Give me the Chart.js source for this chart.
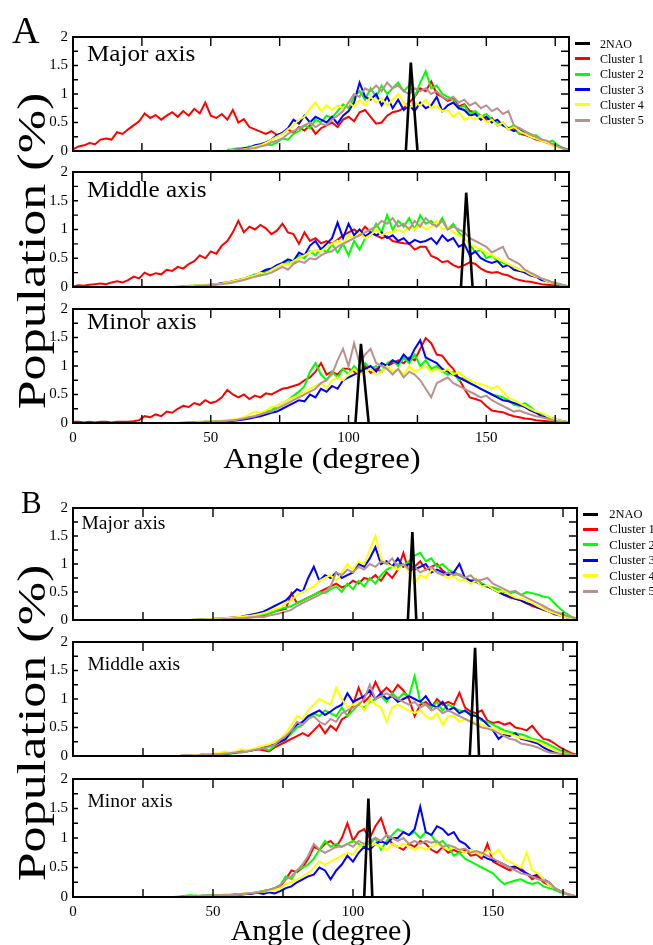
<!DOCTYPE html>
<html><head><meta charset="utf-8">
<script src="https://cdn.jsdelivr.net/npm/chart.js@4.4.1/dist/chart.umd.min.js"></script>
<style>
html,body{margin:0;padding:0;background:#fff;}
#fig{position:relative;width:653px;height:945px;overflow:hidden;font-family:'Liberation Serif','Times New Roman',serif;color:#000;}
canvas{position:absolute;left:0;}
.t{position:absolute;white-space:nowrap;line-height:1;}
</style></head>
<body><div id="fig"></div>
<script>
// ---------------- DATA ----------------
const SERIES_NAMES = ['2NAO','Cluster 1','Cluster 2','Cluster 3','Cluster 4','Cluster 5'];
const PANEL_NAMES = ['Major axis','Middle axis','Minor axis'];
const X_TICK_LABELS = [0,50,100,150];
const Y_TICK_LABELS = [0,0.5,1,1.5,2];

const ANGLES_0 = [0,2,4,6,8,10,12,14,16,18,20,22,24,26,28,30,32,34,36,38,40,42,44,46,48,50,52,54,56,58,60,62,64,66,68,70,72,74,76,78,80,82,84,86,88,90,92,94,96,98,100,102,104,106,108,110,112,114,116,118,120,122,124,126,128,130,132,134,136,138,140,142,144,146,148,150,152,154,156,158,160,162,164,166,168,170,172,174,176,178,180];
const ANGLES_36 = [36,38,40,42,44,46,48,50,52,54,56,58,60,62,64,66,68,70,72,74,76,78,80,82,84,86,88,90,92,94,96,98,100,102,104,106,108,110,112,114,116,118,120,122,124,126,128,130,132,134,136,138,140,142,144,146,148,150,152,154,156,158,160,162,164,166,168,170,172,174,176,178,180];

// 2NAO reference spikes
const A_MAJOR_REF_X = [120.8,122.6,125.0],  A_MAJOR_REF_Y = [0,1.55,0];
const A_MIDDLE_REF_X = [140.8,142.7,145.0], A_MIDDLE_REF_Y = [0,1.64,0];
const A_MINOR_REF_X = [102.5,104.5,107.3],  A_MINOR_REF_Y = [0,1.39,0];
const B_MAJOR_REF_X = [119.6,121.2,122.6],  B_MAJOR_REF_Y = [0,1.57,0];
const B_MIDDLE_REF_X = [141.7,143.6,145.0], B_MIDDLE_REF_Y = [0,1.90,0];
const B_MINOR_REF_X = [104.0,105.5,106.9],  B_MINOR_REF_Y = [0,1.67,0];

// ---- A, Major axis ----
const A_MAJOR_C1 = [0.03,0.08,0.10,0.14,0.12,0.20,0.22,0.20,0.33,0.30,
0.38,0.45,0.52,0.66,0.58,0.63,0.55,0.62,0.68,0.60,
0.70,0.62,0.74,0.66,0.85,0.62,0.58,0.65,0.55,0.72,
0.50,0.56,0.42,0.38,0.34,0.30,0.35,0.28,0.30,0.38,
0.32,0.42,0.36,0.45,0.30,0.40,0.45,0.50,0.42,0.55,
0.60,0.52,0.68,0.72,0.60,0.48,0.50,0.62,0.68,0.70,
0.75,0.85,0.95,1.10,1.05,1.22,1.00,0.95,0.88,0.92,
0.78,0.82,0.70,0.68,0.62,0.55,0.58,0.45,0.50,0.38,
0.40,0.30,0.28,0.25,0.20,0.18,0.15,0.10,0.08,0.05,
0.02];
const A_MAJOR_C2 = [null,null,null,null,null,null,null,null,null,null,
0.02,0.03,0.05,0.04,0.08,0.06,0.10,0.12,0.10,0.15,
0.22,0.20,0.30,0.35,0.45,0.40,0.55,0.50,0.62,0.58,
0.70,0.82,0.75,0.95,1.05,0.90,1.10,0.95,1.15,1.00,
1.10,1.20,1.05,1.15,0.95,1.20,1.40,1.10,1.15,1.00,
0.95,0.90,0.75,0.80,0.65,0.70,0.60,0.65,0.55,0.50,
0.45,0.40,0.45,0.30,0.35,0.25,0.28,0.20,0.15,0.18,
0.10,0.05,0.02];
const A_MAJOR_C3 = [null,null,null,null,null,null,null,null,null,null,
0.01,0.02,0.03,0.05,0.06,0.10,0.12,0.15,0.20,0.28,
0.32,0.40,0.55,0.48,0.62,0.50,0.60,0.55,0.50,0.60,
0.48,0.62,0.70,0.85,1.20,0.95,0.90,1.00,0.80,0.95,
0.75,0.90,0.72,0.80,0.70,0.85,0.75,0.80,0.95,0.70,
0.80,0.85,0.75,0.72,0.62,0.65,0.55,0.60,0.50,0.55,
0.45,0.40,0.35,0.40,0.30,0.25,0.22,0.20,0.15,0.12,
0.08,0.04,0.01];
const A_MAJOR_C4 = [null,null,null,null,null,null,null,null,null,null,
0.01,0.02,0.02,0.03,0.05,0.08,0.10,0.14,0.20,0.25,
0.30,0.38,0.45,0.55,0.60,0.75,0.85,0.70,0.80,0.72,
0.80,0.75,0.85,0.78,0.90,0.80,0.95,0.85,0.92,0.80,
0.90,1.00,0.85,0.75,0.85,0.80,0.90,0.75,0.80,0.70,
0.72,0.60,0.68,0.55,0.60,0.55,0.62,0.50,0.55,0.45,
0.50,0.38,0.42,0.35,0.30,0.25,0.22,0.18,0.15,0.10,
0.06,0.03,0.01];
const A_MAJOR_C5 = [null,null,null,null,null,null,null,null,null,null,
0.01,0.01,0.02,0.02,0.04,0.05,0.08,0.10,0.15,0.18,
0.22,0.30,0.35,0.40,0.45,0.50,0.42,0.48,0.45,0.55,
0.62,0.70,0.85,1.00,0.95,1.10,1.05,1.15,1.05,1.20,
1.10,1.15,1.05,1.00,1.10,1.05,1.10,1.00,1.05,0.95,
0.90,0.95,0.85,0.90,0.80,0.85,0.75,0.80,0.70,0.75,
0.65,0.70,0.45,0.40,0.35,0.30,0.25,0.20,0.18,0.12,
0.08,0.04,0.01];

// ---- A, Middle axis ----
const A_MIDDLE_C1 = [0.01,0.03,0.02,0.04,0.05,0.06,0.05,0.08,0.10,0.08,
0.12,0.18,0.15,0.25,0.20,0.24,0.22,0.30,0.28,0.35,
0.32,0.40,0.45,0.55,0.50,0.62,0.58,0.72,0.80,0.95,
1.15,0.95,1.05,1.00,1.08,1.02,0.92,0.98,1.10,0.95,
0.92,0.75,0.95,0.80,0.85,0.76,0.80,0.75,0.82,0.90,
0.95,1.00,0.92,1.05,0.95,0.90,0.85,0.88,0.80,0.78,
0.76,0.75,0.65,0.70,0.70,0.54,0.50,0.43,0.45,0.38,
0.34,0.38,0.43,0.40,0.32,0.27,0.25,0.26,0.22,0.20,
0.15,0.12,0.10,0.09,0.07,0.05,0.04,0.03,0.02,0.02,
0.01];
const A_MIDDLE_C2 = [0.00,0.01,0.01,0.02,0.02,0.03,0.03,0.04,0.05,0.06,
0.08,0.10,0.12,0.15,0.18,0.22,0.20,0.28,0.30,0.35,
0.40,0.45,0.40,0.55,0.50,0.62,0.55,0.68,0.60,0.75,
0.60,0.75,0.55,0.80,0.65,0.85,0.90,1.10,0.95,1.25,
1.00,1.15,1.05,1.20,1.00,1.25,1.10,1.15,1.05,1.20,
1.00,1.10,0.95,0.85,0.75,0.60,0.65,0.50,0.55,0.45,
0.42,0.38,0.35,0.30,0.25,0.22,0.18,0.14,0.12,0.08,
0.06,0.03,0.01];
const A_MIDDLE_C3 = [0.00,0.00,0.01,0.01,0.02,0.02,0.03,0.04,0.05,0.07,
0.08,0.10,0.12,0.14,0.18,0.20,0.25,0.30,0.32,0.38,
0.42,0.48,0.45,0.60,0.55,0.72,0.80,0.65,0.75,0.85,
1.12,0.85,1.10,0.90,1.00,0.88,0.95,0.90,0.95,0.85,
0.90,0.80,0.85,0.75,0.82,0.78,0.80,0.85,0.75,0.90,
0.80,0.85,0.70,0.75,0.55,0.62,0.50,0.45,0.42,0.45,
0.35,0.38,0.30,0.28,0.25,0.20,0.18,0.12,0.10,0.08,
0.05,0.03,0.01];
const A_MIDDLE_C4 = [0.00,0.01,0.01,0.02,0.02,0.03,0.04,0.04,0.05,0.06,
0.08,0.10,0.12,0.15,0.18,0.20,0.25,0.22,0.30,0.35,
0.40,0.38,0.45,0.50,0.55,0.60,0.65,0.62,0.70,0.75,
0.80,0.75,0.90,0.85,0.95,0.85,0.90,1.00,0.90,0.95,
0.95,1.00,0.95,1.05,1.00,1.10,1.00,1.05,1.15,1.00,
1.05,0.95,0.90,0.85,0.75,0.70,0.65,0.60,0.55,0.50,
0.45,0.40,0.35,0.30,0.28,0.22,0.18,0.15,0.10,0.08,
0.05,0.03,0.01];
const A_MIDDLE_C5 = [0.00,0.00,0.01,0.01,0.01,0.02,0.03,0.03,0.04,0.05,
0.06,0.08,0.10,0.12,0.15,0.18,0.20,0.22,0.25,0.30,
0.35,0.30,0.40,0.45,0.42,0.50,0.48,0.55,0.60,0.62,
0.70,0.75,0.80,0.85,0.90,0.95,1.00,1.05,1.15,1.10,
1.20,1.05,1.10,1.00,1.15,1.05,1.20,1.10,1.05,1.15,
1.00,1.05,1.00,0.95,0.85,0.80,0.75,0.70,0.60,0.65,
0.70,0.50,0.45,0.40,0.30,0.25,0.20,0.15,0.12,0.08,
0.05,0.03,0.01];

// ---- A, Minor axis ----
const A_MINOR_C1 = [0.02,0.02,0.01,0.02,0.01,0.02,0.02,0.01,0.02,0.02,
0.02,0.03,0.05,0.12,0.10,0.15,0.12,0.20,0.18,0.25,
0.30,0.28,0.35,0.32,0.40,0.35,0.38,0.45,0.58,0.50,
0.45,0.50,0.42,0.48,0.45,0.52,0.50,0.55,0.60,0.62,
0.65,0.68,0.75,0.80,0.90,1.05,0.85,0.90,0.85,0.95,
0.95,0.90,0.85,1.00,0.88,0.95,0.90,1.00,1.05,1.10,
1.05,1.15,1.10,1.30,1.49,1.40,1.20,1.18,1.05,0.95,
0.78,0.60,0.45,0.42,0.39,0.30,0.22,0.20,0.19,0.15,
0.12,0.10,0.08,0.07,0.05,0.04,0.03,0.02,0.02,0.01,
0.01];
const A_MINOR_C2 = [0.00,0.00,0.01,0.01,0.01,0.02,0.02,0.02,0.03,0.03,
0.04,0.05,0.06,0.08,0.10,0.12,0.15,0.20,0.22,0.30,
0.35,0.40,0.48,0.55,0.65,0.90,1.05,0.85,0.75,0.90,
0.80,0.95,0.85,1.00,0.90,1.05,0.95,1.00,0.90,1.05,
1.10,1.00,1.15,1.05,1.20,1.00,1.10,0.95,1.00,0.90,
0.85,0.90,0.75,0.80,0.70,0.65,0.60,0.55,0.50,0.48,
0.45,0.40,0.32,0.30,0.35,0.28,0.20,0.15,0.12,0.08,
0.05,0.03,0.01];
const A_MINOR_C3 = [0.00,0.00,0.00,0.01,0.01,0.01,0.02,0.02,0.02,0.03,
0.03,0.04,0.05,0.06,0.08,0.10,0.12,0.15,0.18,0.20,
0.25,0.30,0.35,0.40,0.38,0.50,0.45,0.60,0.55,0.65,
0.60,0.75,0.80,0.85,0.90,0.95,1.00,0.90,1.05,1.00,
1.10,1.05,1.20,1.10,1.30,1.45,1.15,1.10,1.05,0.95,
0.90,0.85,0.80,0.75,0.70,0.65,0.60,0.55,0.50,0.45,
0.40,0.38,0.35,0.32,0.28,0.22,0.18,0.12,0.10,0.08,
0.05,0.03,0.01];
const A_MINOR_C4 = [0.00,0.00,0.01,0.01,0.01,0.02,0.02,0.03,0.03,0.04,
0.05,0.06,0.08,0.10,0.15,0.20,0.18,0.22,0.28,0.30,
0.35,0.40,0.45,0.48,0.55,0.60,0.65,0.70,0.60,0.75,
0.80,0.75,0.85,0.95,0.85,0.90,0.95,0.85,0.90,1.00,
0.90,0.95,0.85,1.00,0.90,0.95,1.00,0.90,0.95,0.90,
0.95,0.85,0.90,0.80,0.75,0.70,0.68,0.65,0.60,0.65,
0.55,0.45,0.40,0.35,0.30,0.25,0.20,0.18,0.12,0.08,
0.05,0.03,0.01];
const A_MINOR_C5 = [0.00,0.00,0.00,0.01,0.01,0.01,0.02,0.02,0.03,0.03,
0.04,0.05,0.06,0.08,0.10,0.12,0.15,0.18,0.20,0.25,
0.30,0.35,0.40,0.45,0.50,0.55,0.60,0.70,0.75,0.85,
1.10,1.30,1.00,1.40,1.05,1.20,1.30,1.05,1.00,0.95,
0.85,0.95,0.80,0.90,0.85,0.75,0.60,0.45,0.70,0.75,
0.80,0.70,0.65,0.60,0.55,0.50,0.45,0.48,0.40,0.35,
0.30,0.25,0.20,0.22,0.18,0.15,0.12,0.10,0.08,0.05,
0.03,0.02,0.01];

// ---- B, Major axis ----
const B_MAJOR_C1 = [null,null,null,null,0.00,0.01,0.01,0.01,0.02,0.02,
0.02,0.03,0.03,0.04,0.05,0.06,0.08,0.12,0.15,0.18,
0.20,0.48,0.30,0.35,0.40,0.45,0.50,0.55,0.60,0.65,
0.58,0.62,0.70,0.65,0.75,0.72,0.80,0.70,0.85,0.75,
0.90,1.20,0.85,0.95,1.05,0.90,0.95,1.00,0.88,0.82,
0.85,0.80,0.75,0.70,0.72,0.65,0.60,0.55,0.50,0.45,
0.40,0.38,0.35,0.30,0.25,0.22,0.20,0.15,0.12,0.10,
0.06,0.03,0.01];
const B_MAJOR_C2 = [null,null,null,null,0.00,0.01,0.01,0.02,0.02,0.02,
0.03,0.03,0.04,0.05,0.06,0.08,0.10,0.12,0.15,0.20,
0.22,0.25,0.30,0.35,0.40,0.45,0.50,0.48,0.55,0.60,
0.50,0.65,0.55,0.70,0.60,0.75,0.65,0.80,0.90,0.95,
1.00,0.95,1.05,1.15,1.20,1.05,1.10,0.95,1.00,0.90,
0.85,0.80,0.75,0.70,0.72,0.65,0.60,0.58,0.55,0.50,
0.48,0.50,0.45,0.50,0.48,0.45,0.42,0.40,0.30,0.20,
0.12,0.06,0.02];
const B_MAJOR_C3 = [null,null,null,0.00,0.01,0.01,0.02,0.02,0.03,0.03,
0.04,0.05,0.06,0.08,0.10,0.12,0.15,0.20,0.25,0.30,
0.35,0.45,0.55,0.50,0.75,0.95,0.70,0.80,0.75,0.85,
0.75,0.80,0.85,1.00,0.95,1.10,1.30,1.00,1.05,0.95,
1.10,0.95,1.00,0.90,0.95,1.00,0.85,0.90,0.85,0.80,
0.85,1.00,0.75,0.70,0.68,0.62,0.60,0.55,0.50,0.45,
0.42,0.38,0.35,0.30,0.28,0.22,0.18,0.15,0.10,0.08,
0.05,0.03,0.01];
const B_MAJOR_C4 = [null,null,null,0.00,0.01,0.01,0.02,0.02,0.03,0.03,
0.04,0.05,0.06,0.07,0.08,0.10,0.12,0.15,0.20,0.22,
0.30,0.35,0.45,0.50,0.55,0.60,0.70,0.75,0.80,0.70,
0.85,1.00,0.90,1.05,1.00,1.25,1.50,1.10,1.00,0.95,
0.90,1.00,0.85,0.65,0.80,0.75,0.90,0.85,0.80,0.75,
0.78,0.70,0.72,0.65,0.70,0.60,0.62,0.55,0.50,0.52,
0.45,0.40,0.38,0.35,0.30,0.25,0.20,0.15,0.12,0.08,
0.05,0.03,0.01];
const B_MAJOR_C5 = [null,null,null,null,0.00,0.00,0.01,0.01,0.01,0.02,
0.02,0.03,0.03,0.04,0.05,0.06,0.05,0.08,0.10,0.12,
0.15,0.18,0.25,0.30,0.35,0.40,0.45,0.50,0.60,0.85,
0.80,0.90,0.85,0.95,0.90,1.00,0.95,1.05,1.00,1.10,
0.95,1.00,0.90,0.95,0.85,0.90,0.95,0.85,0.80,0.85,
0.80,0.82,0.75,0.80,0.70,0.72,0.75,0.65,0.60,0.55,
0.50,0.52,0.45,0.40,0.35,0.30,0.25,0.20,0.15,0.12,
0.08,0.05,0.02];

// ---- B, Middle axis ----
const B_MIDDLE_C1 = [0.00,0.00,0.01,0.01,0.01,0.02,0.02,0.02,0.03,0.04,
0.05,0.06,0.07,0.08,0.10,0.12,0.10,0.08,0.15,0.20,
0.25,0.30,0.35,0.40,0.35,0.45,0.55,0.40,0.53,0.45,
0.64,0.70,0.90,1.20,0.95,1.05,1.30,1.10,1.20,1.10,
1.25,1.15,1.00,0.70,0.90,0.95,0.85,1.00,0.90,0.95,
0.90,1.11,0.85,0.78,0.75,0.80,0.62,0.58,0.60,0.55,
0.58,0.50,0.48,0.45,0.53,0.40,0.30,0.28,0.22,0.15,
0.10,0.05,0.02];
const B_MIDDLE_C2 = [0.00,0.00,0.00,0.01,0.01,0.01,0.02,0.02,0.02,0.03,
0.04,0.05,0.06,0.08,0.10,0.12,0.14,0.10,0.18,0.25,
0.30,0.40,0.50,0.55,0.65,0.75,0.70,0.80,0.75,0.70,
0.85,0.70,0.80,0.90,0.85,0.95,1.00,1.05,0.95,1.10,
1.00,1.10,1.05,1.40,0.95,0.90,0.85,0.95,0.80,0.90,
0.85,0.80,0.78,0.75,0.70,0.62,0.60,0.55,0.50,0.45,
0.42,0.40,0.38,0.35,0.30,0.28,0.25,0.20,0.15,0.10,
0.06,0.03,0.01];
const B_MIDDLE_C3 = [0.00,0.00,0.01,0.01,0.01,0.02,0.02,0.03,0.03,0.04,
0.05,0.06,0.08,0.09,0.10,0.12,0.15,0.18,0.20,0.25,
0.30,0.45,0.55,0.60,0.70,0.75,0.80,0.72,0.78,0.85,
0.90,1.10,0.95,1.00,1.05,1.15,1.00,1.10,1.00,1.05,
0.95,1.00,1.05,1.00,0.95,1.05,0.90,0.85,0.95,0.80,
0.85,0.75,0.80,0.72,0.70,0.65,0.55,0.45,0.30,0.38,
0.35,0.40,0.30,0.28,0.25,0.22,0.15,0.10,0.06,0.05,
0.04,0.02,0.01];
const B_MIDDLE_C4 = [0.00,0.00,0.01,0.01,0.02,0.02,0.03,0.04,0.05,0.08,
0.06,0.08,0.12,0.10,0.12,0.15,0.18,0.20,0.25,0.30,
0.40,0.55,0.70,0.65,0.80,0.90,1.00,0.95,0.90,1.20,
1.00,0.85,0.90,0.95,0.80,1.00,0.90,0.85,0.60,0.85,
0.90,0.85,0.80,0.75,0.80,0.70,0.65,0.75,0.55,0.70,
0.70,0.60,0.65,0.62,0.58,0.55,0.50,0.48,0.45,0.40,
0.38,0.35,0.32,0.30,0.28,0.25,0.20,0.15,0.10,0.06,
0.04,0.02,0.01];
const B_MIDDLE_C5 = [0.00,0.00,0.01,0.01,0.01,0.02,0.02,0.03,0.03,0.04,
0.05,0.06,0.07,0.08,0.10,0.12,0.14,0.16,0.20,0.28,
0.35,0.45,0.60,0.55,0.65,0.70,0.60,0.55,0.65,0.60,
0.75,0.80,0.85,0.90,1.00,1.25,1.00,1.05,1.10,1.05,
1.00,0.95,0.90,0.95,0.85,0.90,0.80,0.85,0.75,0.80,
0.75,0.70,0.65,0.60,0.55,0.50,0.48,0.45,0.40,0.35,
0.30,0.28,0.22,0.20,0.18,0.15,0.10,0.06,0.05,0.04,
0.03,0.02,0.01];

// ---- B, Minor axis ----
const B_MINOR_C1 = [0.00,0.00,0.01,0.01,0.02,0.01,0.02,0.02,0.03,0.02,
0.03,0.04,0.04,0.05,0.06,0.08,0.10,0.12,0.15,0.18,
0.30,0.45,0.42,0.50,0.65,0.85,0.80,0.90,0.95,0.85,
1.00,1.25,0.95,1.10,1.15,1.00,1.20,1.34,1.05,0.90,
0.85,0.80,0.90,0.85,0.95,0.90,0.80,0.75,0.85,0.75,
0.80,0.75,0.80,0.70,0.72,0.65,0.90,0.60,0.55,0.50,
0.45,0.50,0.48,0.40,0.30,0.35,0.25,0.20,0.15,0.10,
0.06,0.03,0.01];
const B_MINOR_C2 = [0.00,0.01,0.02,0.03,0.02,0.02,0.03,0.03,0.03,0.04,
0.04,0.05,0.05,0.06,0.07,0.08,0.10,0.12,0.15,0.20,
0.35,0.30,0.45,0.50,0.55,0.65,0.80,0.95,0.85,0.90,
0.85,0.90,0.95,0.90,0.85,0.90,1.00,0.80,0.95,1.05,
1.15,1.10,1.05,1.10,1.00,1.10,1.05,0.90,0.95,0.85,
0.70,0.75,0.65,0.60,0.55,0.50,0.45,0.40,0.30,0.22,
0.25,0.28,0.30,0.25,0.22,0.25,0.18,0.15,0.12,0.08,
0.05,0.03,0.01];
const B_MINOR_C3 = [0.00,0.00,0.01,0.01,0.01,0.02,0.02,0.02,0.03,0.03,
0.03,0.04,0.05,0.05,0.06,0.07,0.05,0.08,0.06,0.10,
0.15,0.18,0.25,0.30,0.35,0.38,0.50,0.45,0.30,0.45,
0.55,0.70,0.60,0.75,0.85,0.80,0.90,0.95,0.90,1.00,
1.00,1.10,1.05,1.15,1.53,1.10,1.05,1.20,1.15,1.05,
1.10,0.95,0.90,0.80,0.75,0.70,0.65,0.62,0.60,0.55,
0.50,0.52,0.45,0.40,0.35,0.38,0.30,0.25,0.15,0.10,
0.06,0.03,0.01];
const B_MINOR_C4 = [0.00,0.00,0.01,0.01,0.01,0.02,0.02,0.02,0.03,0.03,
0.03,0.04,0.05,0.06,0.07,0.08,0.09,0.10,0.12,0.15,
0.22,0.25,0.30,0.35,0.40,0.50,0.60,0.55,0.60,0.65,
0.70,0.75,0.72,0.85,0.90,0.85,0.90,0.85,0.80,0.90,
0.85,0.90,0.85,0.80,0.85,0.80,0.85,0.90,0.85,0.80,
0.85,0.80,0.75,0.80,0.75,0.70,0.80,0.72,0.80,0.65,
0.60,0.55,0.50,0.75,0.45,0.40,0.30,0.20,0.15,0.10,
0.06,0.03,0.01];
const B_MINOR_C5 = [0.00,0.00,0.01,0.01,0.01,0.02,0.02,0.02,0.03,0.03,
0.03,0.04,0.05,0.06,0.07,0.08,0.09,0.12,0.15,0.20,
0.30,0.35,0.45,0.55,0.70,0.90,0.80,0.75,0.80,0.85,
0.85,0.90,0.85,0.95,0.90,0.95,1.00,0.95,1.05,1.00,
0.95,1.00,0.90,0.95,0.90,0.95,0.92,0.95,0.85,0.88,
0.85,0.80,0.82,0.75,0.78,0.75,0.70,0.65,0.60,0.55,
0.50,0.45,0.40,0.38,0.35,0.30,0.28,0.25,0.15,0.10,
0.06,0.03,0.01];

// ---------------- STYLE / LAYOUT ----------------
const COLORS = ['#000000','#ff0000','#00ff00','#0000ff','#ffff00','#bc8f8f'];
const FONT = "'Liberation Serif','Times New Roman',serif";

const PANELS = [
  {top:33,  bottom:153, left:73, right:569, xlab:false, name:0, big:true,
   ref:[A_MAJOR_REF_X,A_MAJOR_REF_Y], c1x:ANGLES_0, series:[A_MAJOR_C1,A_MAJOR_C2,A_MAJOR_C3,A_MAJOR_C4,A_MAJOR_C5]},
  {top:168, bottom:289, left:73, right:569, xlab:false, name:1, big:true,
   ref:[A_MIDDLE_REF_X,A_MIDDLE_REF_Y], c1x:ANGLES_0, series:[A_MIDDLE_C1,A_MIDDLE_C2,A_MIDDLE_C3,A_MIDDLE_C4,A_MIDDLE_C5]},
  {top:305, bottom:423, left:73, right:569, xlab:true, name:2, big:true,
   ref:[A_MINOR_REF_X,A_MINOR_REF_Y], c1x:ANGLES_0, series:[A_MINOR_C1,A_MINOR_C2,A_MINOR_C3,A_MINOR_C4,A_MINOR_C5]},
  {top:504, bottom:622, left:73, right:577, xlab:false, name:0, big:false,
   ref:[B_MAJOR_REF_X,B_MAJOR_REF_Y], c1x:ANGLES_36, series:[B_MAJOR_C1,B_MAJOR_C2,B_MAJOR_C3,B_MAJOR_C4,B_MAJOR_C5]},
  {top:638, bottom:758, left:73, right:577, xlab:false, name:1, big:false,
   ref:[B_MIDDLE_REF_X,B_MIDDLE_REF_Y], c1x:ANGLES_36, series:[B_MIDDLE_C1,B_MIDDLE_C2,B_MIDDLE_C3,B_MIDDLE_C4,B_MIDDLE_C5]},
  {top:775, bottom:897, left:73, right:577, xlab:true, name:2, big:false,
   ref:[B_MINOR_REF_X,B_MINOR_REF_Y], c1x:ANGLES_36, series:[B_MINOR_C1,B_MINOR_C2,B_MINOR_C3,B_MINOR_C4,B_MINOR_C5]}
];

const X_MINOR_TICKS = [25,50,75,100,125,150,175];
const Y_MINOR_TICKS = [0.25,0.5,0.75,1,1.25,1.5,1.75];

const frameTicks = {
  id:'frameTicks',
  afterDatasetsDraw(chart){
    const {ctx, chartArea:a, scales:{x,y}} = chart;
    ctx.save();
    ctx.strokeStyle = '#000';
    ctx.lineWidth = 1.4;
    ctx.beginPath();
    X_MINOR_TICKS.forEach(v=>{
      const px = x.getPixelForValue(v);
      ctx.moveTo(px, a.top); ctx.lineTo(px, a.top+9);
      ctx.moveTo(px, a.bottom); ctx.lineTo(px, a.bottom-8);
    });
    Y_MINOR_TICKS.forEach(v=>{
      const py = y.getPixelForValue(v);
      ctx.moveTo(a.left, py); ctx.lineTo(a.left+5, py);
      ctx.moveTo(a.right, py); ctx.lineTo(a.right-8, py);
    });
    ctx.stroke();
    ctx.lineWidth = 2;
    ctx.strokeRect(a.left, a.top, a.right-a.left, a.bottom-a.top);
    ctx.restore();
  }
};

const fig = document.getElementById('fig');
const PAD_TOP = 10;

function pts(xs, ys){ return ys.map((v,i)=>({x:xs[i], y:v})); }

PANELS.forEach((p)=>{
  const xh = p.xlab ? 36 : 12;
  const h = PAD_TOP + (p.bottom - p.top) + xh;
  const cv = document.createElement('canvas');
  cv.width = 653; cv.height = h;
  cv.style.top = (p.top - PAD_TOP) + 'px';
  cv.style.width = '653px'; cv.style.height = h + 'px';
  fig.appendChild(cv);

  const datasets = [];
  datasets.push({label:SERIES_NAMES[0], data:pts(p.ref[0], p.ref[1]), borderColor:COLORS[0], borderWidth:2.6, order:0});
  p.series.forEach((ys, k)=>{
    const xs = (k===0) ? p.c1x : ANGLES_36;
    datasets.push({label:SERIES_NAMES[k+1], data:pts(xs, ys), borderColor:COLORS[k+1], borderWidth:2, order:5-k});
  });

  new Chart(cv, {
    type:'line',
    data:{datasets},
    options:{
      responsive:false, animation:false, devicePixelRatio:1,
      layout:{padding:{top:PAD_TOP, right:653-p.right, left:0, bottom:0}},
      plugins:{legend:{display:false}, tooltip:{enabled:false}, title:{display:false}},
      elements:{point:{radius:0, hoverRadius:0}, line:{tension:0, fill:false, borderCapStyle:'butt', borderJoinStyle:'miter'}},
      scales:{
        x:{type:'linear', min:0, max:180,
           grid:{display:false, drawTicks:false}, border:{display:false},
           ticks:{display:p.xlab, stepSize:50, includeBounds:false, autoSkip:false, maxRotation:0, padding:6,
                  color:'#000', font:{family:FONT, size:15}, callback:(v)=>X_TICK_LABELS.includes(v)?String(v):''},
           afterFit:(s)=>{ s.height = xh; }},
        y:{type:'linear', min:0, max:2,
           grid:{display:false, drawTicks:false}, border:{display:false},
           ticks:{stepSize:0.5, padding:5, color:'#000', font:{family:FONT, size:15},
                  callback:(v)=>Y_TICK_LABELS.includes(v)?String(v):''},
           afterFit:(s)=>{ s.width = p.left; }}
      }
    },
    plugins:[frameTicks]
  });

  // panel label
  const lab = document.createElement('div');
  lab.className = 't';
  lab.textContent = PANEL_NAMES[p.name];
  const fs = p.big ? 23.5 : 19.5;
  lab.style.fontSize = fs + 'px';
  lab.style.left = (p.big ? 87 : (p.name===0 ? 81.5 : 87.5)) + 'px';
  const base = p.top + (p.big ? [29,30,25][p.name] : [25,32,32][p.name]);
  lab.style.top = (base - 0.8375*fs) + 'px';
  if (p.big) { lab.style.transformOrigin = '0 0'; lab.style.transform = 'scaleX(1.07)'; }
  fig.appendChild(lab);
});

// Legends (A and B)
function legend(x0, lineW, textX, y0, dy, fs){
  SERIES_NAMES.forEach((n,i)=>{
    const cy = y0 + i*dy;
    const ln = document.createElement('div');
    ln.style.cssText = `position:absolute;left:${x0}px;top:${cy-1.5}px;width:${lineW}px;height:3px;background:${COLORS[i]};`;
    fig.appendChild(ln);
    const t = document.createElement('div');
    t.className = 't';
    t.textContent = n;
    t.style.fontSize = fs + 'px';
    t.style.left = textX + 'px';
    t.style.top = (cy + 4.3 - 0.8375*fs) + 'px';
    fig.appendChild(t);
  });
}
legend(575, 14.5, 600, 43.3, 15.35, 12);
legend(583, 15, 609.3, 514, 15.45, 12.5);

// Big letters and axis titles
function addText(txt, fs, css){
  const d = document.createElement('div');
  d.className = 't'; d.textContent = txt; d.style.fontSize = fs + 'px';
  Object.assign(d.style, css);
  fig.appendChild(d); return d;
}
addText('A', 38, {left:'12px', top:(42.7-0.8375*38)+'px'});
addText('B', 31, {left:'21px', top:(512.7-0.8375*31)+'px'});
addText('Angle (degree)', 29, {left:'322px', top:(468.3-0.8375*29)+'px', transform:'translateX(-50%) scaleX(1.13)'});
addText('Angle (degree)', 30, {left:'321px', top:(940-0.8375*30)+'px', transform:'translateX(-50%)'});
addText('Population (%)', 41, {left:'31px', top:'251px', transform:'translate(-50%,-50%) rotate(-90deg) scaleX(1.27)'});
addText('Population (%)', 41, {left:'31px', top:'723px', transform:'translate(-50%,-50%) rotate(-90deg) scaleX(1.27)'});
</script>
</body></html>
